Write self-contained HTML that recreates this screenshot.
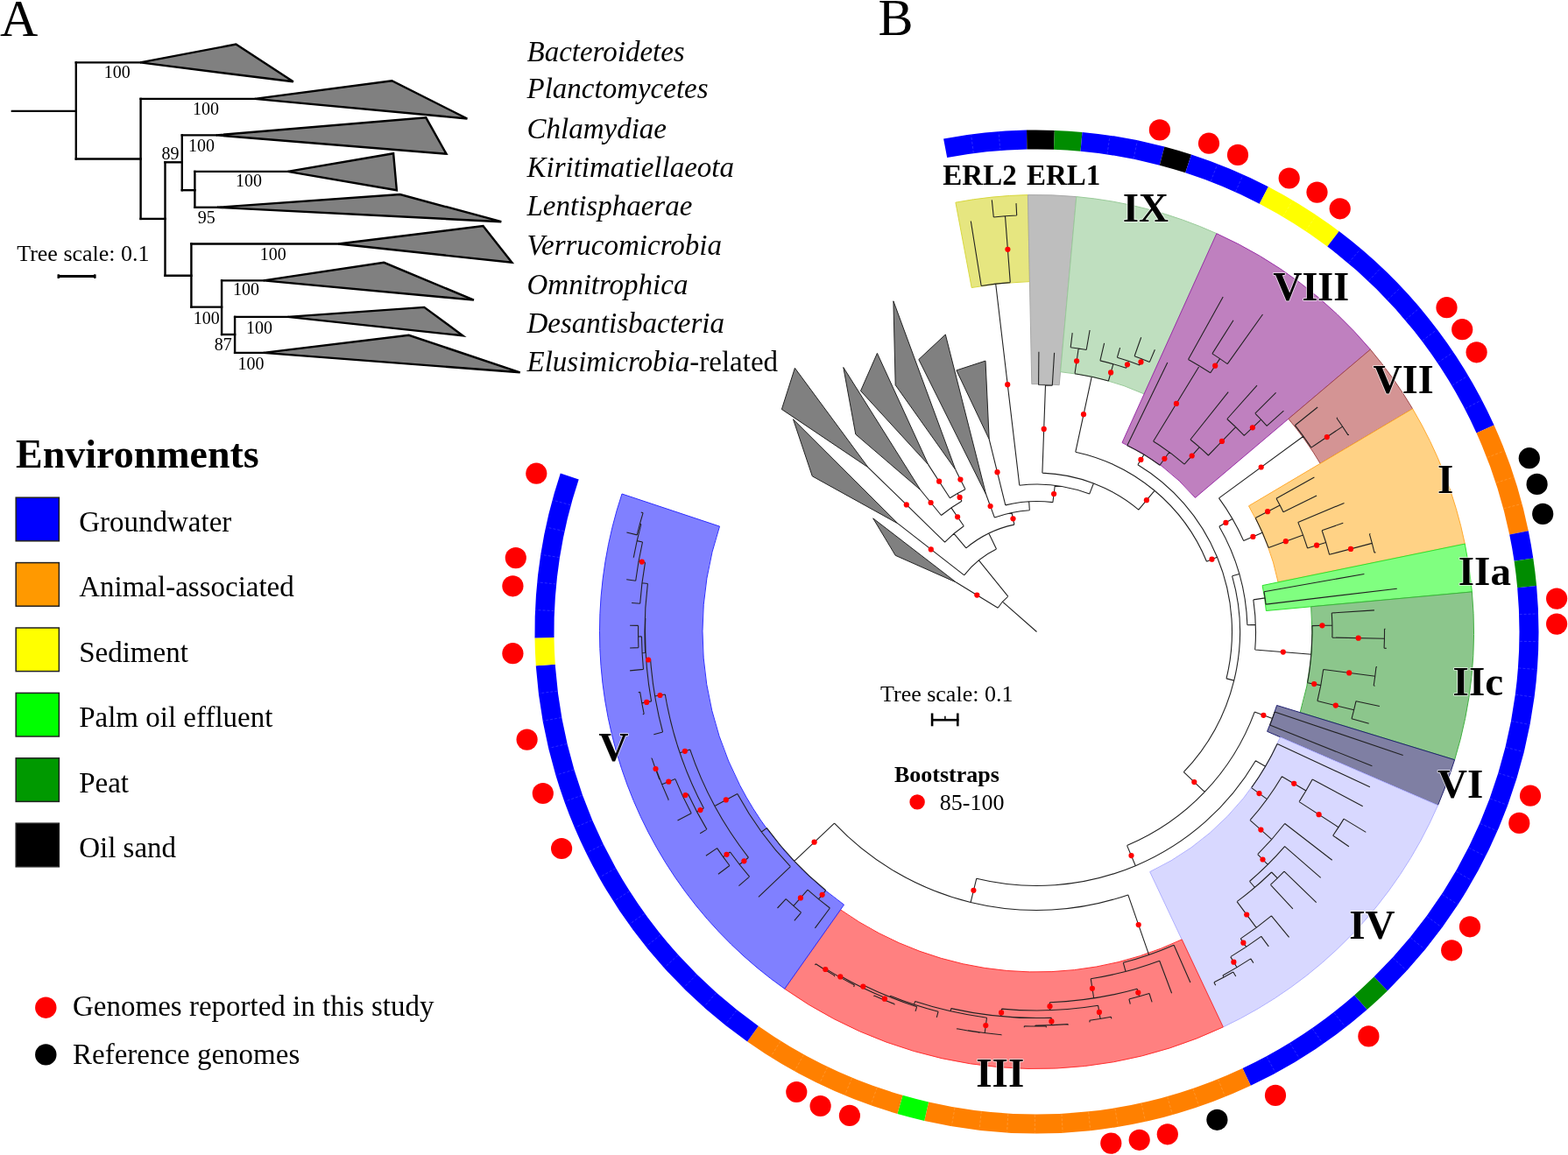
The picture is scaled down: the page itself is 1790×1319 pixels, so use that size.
<!DOCTYPE html>
<html><head><meta charset="utf-8"><title>Figure</title>
<style>html,body{margin:0;padding:0;background:#fff;} svg{display:block}</style></head>
<body><svg width="1790" height="1319" viewBox="0 0 1790 1319" font-family="'Liberation Serif', serif">
<rect width="1790" height="1319" fill="#fff"/>
<text x="0" y="41" font-size="60">A</text>
<g stroke="#000" stroke-width="2.4" stroke-linecap="square" fill="none">
<line x1="13.9" y1="126.9" x2="86.8" y2="126.9"/>
<line x1="86.8" y1="71.4" x2="86.8" y2="181.5"/>
<line x1="86.8" y1="71.4" x2="160.1" y2="71.4"/>
<line x1="86.8" y1="181.5" x2="160.6" y2="181.5"/>
<line x1="160.6" y1="112.9" x2="160.6" y2="249.9"/>
<line x1="160.6" y1="112.9" x2="290.8" y2="112.9"/>
<line x1="160.6" y1="249.9" x2="188.5" y2="249.9"/>
<line x1="188.5" y1="185.3" x2="188.5" y2="314.7"/>
<line x1="188.5" y1="185.3" x2="207.8" y2="185.3"/>
<line x1="207.8" y1="154.4" x2="207.8" y2="217.2"/>
<line x1="207.8" y1="154.4" x2="246.8" y2="154.4"/>
<line x1="207.8" y1="217.2" x2="222.4" y2="217.2"/>
<line x1="222.4" y1="195.9" x2="222.4" y2="236.8"/>
<line x1="222.4" y1="195.9" x2="328.5" y2="195.9"/>
<line x1="222.4" y1="236.8" x2="248" y2="236.8"/>
<line x1="188.5" y1="314.7" x2="218.4" y2="314.7"/>
<line x1="218.4" y1="278.5" x2="218.4" y2="350.6"/>
<line x1="218.4" y1="278.5" x2="386.3" y2="278.5"/>
<line x1="218.4" y1="350.6" x2="253.1" y2="350.6"/>
<line x1="253.1" y1="320.4" x2="253.1" y2="382"/>
<line x1="253.1" y1="320.4" x2="300.8" y2="320.4"/>
<line x1="253.1" y1="382" x2="268.1" y2="382"/>
<line x1="268.1" y1="361.9" x2="268.1" y2="402.9"/>
<line x1="268.1" y1="361.9" x2="328.5" y2="361.9"/>
<line x1="268.1" y1="402.9" x2="300.8" y2="402.9"/>
</g>
<g fill="#808080" stroke="#000" stroke-width="2.4" stroke-linejoin="miter">
<polygon points="160.1,71.4 269.4,50.6 334.8,93.3"/>
<polygon points="290.8,112.9 447.4,92.3 533.4,135.5"/>
<polygon points="246.8,154.4 486.3,134.3 509.5,175.7"/>
<polygon points="328.5,195.9 449.1,175.2 452.9,217.2"/>
<polygon points="248,236.8 456.7,222 572.3,253.2"/>
<polygon points="386.3,278.5 551.5,258.1 584.4,299.8"/>
<polygon points="300.8,320.4 438.3,299.8 540.9,342.6"/>
<polygon points="328.5,361.9 484.3,350.9 528.3,383.3"/>
<polygon points="300.8,402.9 466.7,382.8 593.7,425.3"/>
</g>
<g font-size="20">
<text x="118.7" y="89.2">100</text>
<text x="220.0" y="130.5">100</text>
<text x="184.4" y="182">89</text>
<text x="215.0" y="173.2">100</text>
<text x="269.1" y="213">100</text>
<text x="225.8" y="255">95</text>
<text x="296.7" y="297.3">100</text>
<text x="266.0" y="336.8">100</text>
<text x="220.8" y="370.2">100</text>
<text x="281.1" y="381.3">100</text>
<text x="244.7" y="399.6">87</text>
<text x="271.6" y="421.5">100</text>
</g>
<text x="19.2" y="298" font-size="26">Tree scale: 0.1</text>
<line x1="66" y1="315.6" x2="109.2" y2="315.6" stroke="#000" stroke-width="3"/>
<rect x="65.5" y="313.3" width="2.5" height="4.6"/><rect x="107" y="313.3" width="2.5" height="4.6"/>
<g font-size="33" font-style="italic">
<text x="601.5" y="70.4">Bacteroidetes</text>
<text x="601.5" y="112.4">Planctomycetes</text>
<text x="601.5" y="157.5">Chlamydiae</text>
<text x="601.5" y="201.7">Kiritimatiellaeota</text>
<text x="601.5" y="246">Lentisphaerae</text>
<text x="601.5" y="290.6">Verrucomicrobia</text>
<text x="601.5" y="335.7">Omnitrophica</text>
<text x="601.5" y="379.9">Desantisbacteria</text>
<text x="601.5" y="424.3">Elusimicrobia<tspan font-style="normal">-related</tspan></text>
</g>
<text x="18" y="534.4" font-size="46" font-weight="bold">Environments</text>
<rect x="18.2" y="568.2" width="49.2" height="49.6" fill="#0000FF" stroke="#222" stroke-width="1.5"/>
<text x="90.2" y="607.0" font-size="33">Groundwater</text>
<rect x="18.2" y="642.6" width="49.2" height="49.6" fill="#FF9900" stroke="#222" stroke-width="1.5"/>
<text x="90.2" y="681.4" font-size="33">Animal-associated</text>
<rect x="18.2" y="717.0" width="49.2" height="49.6" fill="#FFFF00" stroke="#222" stroke-width="1.5"/>
<text x="90.2" y="755.8" font-size="33">Sediment</text>
<rect x="18.2" y="791.4" width="49.2" height="49.6" fill="#00FF00" stroke="#222" stroke-width="1.5"/>
<text x="90.2" y="830.2" font-size="33">Palm oil effluent</text>
<rect x="18.2" y="865.8" width="49.2" height="49.6" fill="#009900" stroke="#222" stroke-width="1.5"/>
<text x="90.2" y="904.6" font-size="33">Peat</text>
<rect x="18.2" y="940.2" width="49.2" height="49.6" fill="#000000" stroke="#222" stroke-width="1.5"/>
<text x="90.2" y="979.0" font-size="33">Oil sand</text>
<circle cx="52.3" cy="1150.7" r="12.2" fill="#FF0000"/>
<circle cx="52.3" cy="1204.4" r="12.2" fill="#000"/>
<text x="83" y="1160" font-size="33">Genomes reported in this study</text>
<text x="83" y="1215.2" font-size="33">Reference genomes</text>
<text x="1002.5" y="39.5" font-size="60">B</text>
<path d="M1090.9,231.2 A499,499 0 0 1 1173.4,222.6 L1175.4,321.6 A400,400 0 0 0 1109.2,328.5 Z" fill="#E6E680" stroke="#D8D840" stroke-width="1"/>
<path d="M1173.4,222.6 A499,499 0 0 1 1228.8,224.6 L1209.2,439.7 A283,283 0 0 0 1177.8,438.6 Z" fill="#BEBEBE" stroke="#A8A8A8" stroke-width="1"/>
<path d="M1228.8,224.6 A499,499 0 0 1 1388.9,266.7 L1306.1,449.9 A298,298 0 0 0 1210.6,424.7 Z" fill="#BFDFBF" stroke="#9ACB9A" stroke-width="1"/>
<path d="M1388.9,266.7 A499,499 0 0 1 1564.4,399.1 L1364.4,568.4 A237,237 0 0 0 1281.0,505.5 Z" fill="#BF80BF" stroke="#9A30A8" stroke-width="1"/>
<path d="M1564.4,399.1 A499,499 0 0 1 1612.6,466.8 L1507.2,529.3 A376.5,376.5 0 0 0 1470.9,478.3 Z" fill="#D49494" stroke="#A04848" stroke-width="1"/>
<path d="M1612.6,466.8 A499,499 0 0 1 1672.3,621.1 L1459.1,664.9 A281.4,281.4 0 0 0 1425.5,577.8 Z" fill="#FFD285" stroke="#FFAA30" stroke-width="1"/>
<path d="M1672.3,621.1 A499,499 0 0 1 1680.4,675.9 L1445.4,697.5 A263,263 0 0 0 1441.1,668.6 Z" fill="#80FF80" stroke="#30E030" stroke-width="1"/>
<path d="M1680.4,675.9 A499,499 0 0 1 1660.6,867.7 L1484.2,813.6 A314.5,314.5 0 0 0 1496.7,692.8 Z" fill="#8CC68C" stroke="#40B040" stroke-width="1"/>
<path d="M1660.6,867.7 A499,499 0 0 1 1641.5,919.6 L1446.6,835.3 A286.7,286.7 0 0 0 1457.6,805.5 Z" fill="#7F7FA3" stroke="#202070" stroke-width="1"/>
<path d="M1641.5,919.6 A499,499 0 0 1 1396.3,1172.9 L1312.7,995.6 A303,303 0 0 0 1461.6,841.8 Z" fill="#D8D8FF" stroke="#B0B0FF" stroke-width="1"/>
<path d="M1396.3,1172.9 A499,499 0 0 1 895.7,1129.2 L959.5,1038.9 A388.5,388.5 0 0 0 1349.2,1072.9 Z" fill="#FF8080" stroke="#FF3030" stroke-width="1"/>
<path d="M895.7,1129.2 A499,499 0 0 1 710.0,564.0 L821.5,601.1 A381.5,381.5 0 0 0 963.5,1033.2 Z" fill="#8080FF" stroke="#3030FF" stroke-width="1"/>
<path d="M1077.1,158.5 A573,573 0 0 1 1172.0,148.6 L1172.4,170.6 A551,551 0 0 0 1081.2,180.1 Z" fill="#0000FF"/>
<path d="M1172.0,148.6 A573,573 0 0 1 1203.8,148.9 L1203.0,170.8 A551,551 0 0 0 1172.4,170.6 Z" fill="#000000"/>
<path d="M1203.8,148.9 A573,573 0 0 1 1235.5,150.9 L1233.5,172.8 A551,551 0 0 0 1203.0,170.8 Z" fill="#008C00"/>
<path d="M1235.5,150.9 A573,573 0 0 1 1329.4,167.4 L1323.8,188.7 A551,551 0 0 0 1233.5,172.8 Z" fill="#0000FF"/>
<path d="M1329.4,167.4 A573,573 0 0 1 1360.0,176.4 L1353.2,197.3 A551,551 0 0 0 1323.8,188.7 Z" fill="#000000"/>
<path d="M1360.0,176.4 A573,573 0 0 1 1447.9,213.2 L1437.8,232.7 A551,551 0 0 0 1353.2,197.3 Z" fill="#0000FF"/>
<path d="M1447.9,213.2 A573,573 0 0 1 1528.6,264.1 L1515.3,281.6 A551,551 0 0 0 1437.8,232.7 Z" fill="#FFFF00"/>
<path d="M1528.6,264.1 A573,573 0 0 1 1705.6,485.4 L1685.5,494.5 A551,551 0 0 0 1515.3,281.6 Z" fill="#0000FF"/>
<path d="M1705.6,485.4 A573,573 0 0 1 1744.8,606.2 L1723.2,610.6 A551,551 0 0 0 1685.5,494.5 Z" fill="#FF8000"/>
<path d="M1744.8,606.2 A573,573 0 0 1 1750.3,637.6 L1728.6,640.8 A551,551 0 0 0 1723.2,610.6 Z" fill="#0000FF"/>
<path d="M1750.3,637.6 A573,573 0 0 1 1754.1,669.1 L1732.2,671.2 A551,551 0 0 0 1728.6,640.8 Z" fill="#008C00"/>
<path d="M1754.1,669.1 A573,573 0 0 1 1583.9,1131.4 L1568.5,1115.6 A551,551 0 0 0 1732.2,671.2 Z" fill="#0000FF"/>
<path d="M1583.9,1131.4 A573,573 0 0 1 1560.6,1153.0 L1546.1,1136.4 A551,551 0 0 0 1568.5,1115.6 Z" fill="#008C00"/>
<path d="M1560.6,1153.0 A573,573 0 0 1 1427.8,1239.8 L1418.5,1219.9 A551,551 0 0 0 1546.1,1136.4 Z" fill="#0000FF"/>
<path d="M1427.8,1239.8 A573,573 0 0 1 1055.2,1279.9 L1060.1,1258.5 A551,551 0 0 0 1418.5,1219.9 Z" fill="#FF8000"/>
<path d="M1055.2,1279.9 A573,573 0 0 1 1024.4,1272.0 L1030.5,1250.8 A551,551 0 0 0 1060.1,1258.5 Z" fill="#00FF00"/>
<path d="M1024.4,1272.0 A573,573 0 0 1 853.1,1189.6 L865.8,1171.7 A551,551 0 0 0 1030.5,1250.8 Z" fill="#FF8000"/>
<path d="M853.1,1189.6 A573,573 0 0 1 611.8,760.2 L633.8,758.7 A551,551 0 0 0 865.8,1171.7 Z" fill="#0000FF"/>
<path d="M611.8,760.2 A573,573 0 0 1 610.5,728.4 L632.5,728.1 A551,551 0 0 0 633.8,758.7 Z" fill="#FFFF00"/>
<path d="M610.5,728.4 A573,573 0 0 1 639.8,540.6 L660.7,547.6 A551,551 0 0 0 632.5,728.1 Z" fill="#0000FF"/>
<path d="M1111.3,174.7L1108.6,153.9M1141.8,171.6L1140.2,150.6M1264.0,175.9L1267.0,155.1M1294.1,181.2L1298.4,160.6M1382.2,207.0L1389.8,187.5M1410.5,218.9L1419.1,199.7M1464.8,247.1L1475.5,229.1M1490.7,263.5L1502.4,246.0M1539.5,300.3L1553.1,284.3M1562.4,320.7L1576.8,305.5M1584.0,342.4L1599.3,328.0M1604.5,365.2L1620.5,351.6M1623.6,389.1L1640.3,376.5M1641.4,414.1L1658.8,402.4M1657.7,440.0L1675.8,429.2M1672.6,466.7L1691.2,457.0M1697.8,522.5L1717.4,514.9M1708.1,551.3L1728.1,544.9M1716.7,580.7L1737.0,575.4M1734.6,701.7L1755.6,700.9M1734.9,732.3L1755.9,732.7M1733.4,762.9L1754.4,764.5M1730.3,793.3L1751.1,796.1M1725.5,823.6L1746.1,827.5M1719.0,853.5L1739.4,858.5M1710.8,883.0L1730.9,889.2M1701.0,912.0L1720.7,919.3M1689.7,940.5L1708.9,948.8M1676.7,968.2L1695.5,977.6M1662.3,995.2L1680.5,1005.7M1646.3,1021.4L1664.0,1032.8M1629.0,1046.6L1645.9,1059.0M1610.2,1070.8L1626.5,1084.1M1590.2,1094.0L1605.7,1108.2M1522.8,1156.3L1535.7,1172.8M1498.1,1174.4L1510.1,1191.7M1472.5,1191.2L1483.5,1209.1M1446.0,1206.5L1456.0,1225.0M1390.6,1232.6L1398.5,1252.1M1361.9,1243.3L1368.7,1263.2M1332.7,1252.4L1338.4,1272.7M1303.0,1259.9L1307.5,1280.4M1272.9,1265.7L1276.3,1286.4M1242.6,1269.8L1244.8,1290.7M1212.0,1272.3L1213.1,1293.2M1181.4,1273.0L1181.4,1294.0M1150.8,1272.0L1149.6,1293.0M1120.3,1269.4L1117.9,1290.2M1090.0,1265.0L1086.4,1285.7M1001.2,1242.0L994.2,1261.8M972.6,1231.1L964.5,1250.5M944.6,1218.6L935.5,1237.5M917.4,1204.5L907.2,1222.9M891.0,1189.0L879.8,1206.8M841.0,1153.7L827.9,1170.2M817.5,1134.0L803.6,1149.7M795.2,1113.1L780.4,1128.0M774.0,1090.9L758.4,1105.0M754.1,1067.6L737.8,1080.8M735.6,1043.3L718.5,1055.5M718.4,1017.9L700.7,1029.2M702.7,991.6L684.4,1001.9M688.4,964.5L669.6,973.8M675.7,936.7L656.4,944.9M664.5,908.2L644.8,915.3M655.0,879.1L634.9,885.1M647.1,849.5L626.6,854.4M640.8,819.5L620.1,823.2M636.2,789.2L615.3,791.8M632.5,697.5L611.5,696.6M634.7,667.0L613.8,664.9M638.6,636.6L617.8,633.4M644.1,606.5L623.6,602.1M651.3,576.7L631.1,571.2" stroke="#fff" stroke-opacity="0.22" stroke-width="0.8" stroke-dasharray="3 2" fill="none"/>
<g fill="#808080" stroke="#222" stroke-width="1" stroke-linejoin="miter">
<polygon points="1091.5,665.0 1022.2,634.3 996.7,591.9"/>
<polygon points="1025.0,597.9 927.3,543.8 905.5,478.8"/>
<polygon points="991.1,533.8 892.4,467.4 907.4,420.3"/>
<polygon points="1050.8,559.5 976.8,496.0 962.8,419.5"/>
<polygon points="1059.7,530.6 982.5,446.4 1001.4,403.4"/>
<polygon points="1090.8,536.4 1022.2,439.7 1019.9,343.8"/>
<polygon points="1125.7,564.8 1048.8,410.5 1079.3,382.0"/>
<polygon points="1129.2,501.6 1091.9,422.9 1125.0,412.1"/>
</g>
<path d="M1183.5,721.5L1144.4,687.2M1139.2,694.3A52,52 0 0 1 1150.8,681.1M1139.2,694.3L1091.5,665.0M1150.8,681.1L1117.4,639.9M1100.7,656.9A105,105 0 0 1 1137.5,627.1M1100.7,656.9L1025.0,597.9M1137.5,627.1L1128.8,609.1M1102.9,625.9A125,125 0 0 1 1157.9,599.1M1102.9,625.9L1089.0,609.4M1078.6,619.1A146.6,146.6 0 0 1 1100.3,600.8M1078.6,619.1L991.1,533.8M1100.3,600.8L1085.9,579.9M1074.5,588.5A172,172 0 0 1 1098.0,572.2M1074.5,588.5L1050.8,559.5M1098.0,572.2L1093.1,563.6M1084.4,568.8A182,182 0 0 1 1102.0,558.8M1084.4,568.8L1059.7,530.6M1102.0,558.8L1090.8,536.4M1157.9,599.1L1155.0,585.4M1135.4,591.1A139,139 0 0 1 1175.3,582.7M1135.4,591.1L1125.7,564.8M1175.3,582.7L1174.7,572.8M1147.8,576.9A149,149 0 0 1 1201.9,573.6M1147.8,576.9L1129.2,501.6M1201.9,573.6L1204.3,554.3M1163.8,554.2A168.5,168.5 0 0 1 1243.7,564.1M1163.8,554.2L1136.7,324.3M1120.2,326.5A400,400 0 0 1 1153.3,322.6M1120.2,326.5L1108.3,252.5M1153.3,322.6L1147.5,246.9M1134.3,248.0A476,476 0 0 1 1160.7,246.0M1134.3,248.0L1132.3,228.4M1160.7,246.0L1160.0,232.1M1243.7,564.1L1248.4,552.0M1189.9,540.1A181.5,181.5 0 0 1 1299.8,582.1M1189.9,540.1L1193.5,439.7M1185.6,439.5A282,282 0 0 1 1201.3,440.1M1185.6,439.5L1185.9,401.7M1201.3,440.1L1203.6,402.9M1299.8,582.1L1318.0,560.3M1227.8,516.2A210,210 0 0 1 1377.5,641.2M1227.8,516.2L1246.3,430.2M1227.0,426.7A298,298 0 0 1 1265.4,435.0M1227.0,426.7L1231.2,398.0M1222.2,396.8A327,327 0 0 1 1240.2,399.5M1222.2,396.8L1224.2,380.1M1240.2,399.5L1244.1,377.0M1265.4,435.0L1270.9,415.7M1255.9,411.9A318,318 0 0 1 1285.6,420.3M1255.9,411.9L1260.6,391.9M1285.6,420.3L1288.4,412.3M1275.4,408.2A326.5,326.5 0 0 1 1301.1,416.9M1275.4,408.2L1278.6,397.2M1301.1,416.9L1303.8,409.9M1295.1,406.7A334,334 0 0 1 1312.4,413.4M1295.1,406.7L1302.7,385.3M1312.4,413.4L1318.4,399.3M1377.5,641.2L1389.5,636.2M1298.9,530.7A223,223 0 0 1 1400.0,774.9M1298.9,530.7L1305.9,519.1M1286.8,508.7A236.5,236.5 0 0 1 1324.0,531.2M1286.8,508.7L1332.8,414.0M1324.0,531.2L1334.9,516.3M1316.6,504.0A255,255 0 0 1 1352.1,530.2M1316.6,504.0L1369.3,417.8M1356.5,410.4A356,356 0 0 1 1381.8,425.8M1356.5,410.4L1396.2,338.9M1381.8,425.8L1392.6,409.6M1383.9,403.9A375.5,375.5 0 0 1 1401.2,415.6M1383.9,403.9L1408.0,365.8M1401.2,415.6L1441.5,359.0M1352.1,530.2L1369.3,510.7M1358.9,502.0A281,281 0 0 1 1379.4,520.0M1358.9,502.0L1402.2,447.7M1379.4,520.0L1410.7,487.7M1400.8,478.5A326,326 0 0 1 1420.3,497.4M1400.8,478.5L1435.0,440.2M1420.3,497.4L1439.6,479.1M1432.8,472.1A352.6,352.6 0 0 1 1446.2,486.3M1432.8,472.1L1456.6,448.3M1446.2,486.3L1465.4,469.1M1400.0,774.9L1408.7,777.1M1406.6,657.8A232,232 0 0 1 1351.3,881.7M1406.6,657.8L1414.8,655.5M1391.8,601.2A240.5,240.5 0 0 1 1423.9,713.7M1391.8,601.2L1406.9,592.5M1391.5,568.9A258,258 0 0 1 1419.7,617.6M1391.5,568.9L1487.9,498.2M1478.3,485.7A377.5,377.5 0 0 1 1496.9,511.1M1478.3,485.7L1504.2,465.0M1496.9,511.1L1532.6,487.1M1526.0,477.5A420.5,420.5 0 0 1 1539.0,496.9M1526.0,477.5L1526.8,476.9M1539.0,496.9L1539.8,496.3M1419.7,617.6L1441.2,608.2M1433.2,591.4A281.5,281.5 0 0 1 1448.1,625.4M1433.2,591.4L1461.1,576.9M1457.0,569.2A313,313 0 0 1 1465.0,584.7M1457.0,569.2L1500.4,545.1M1465.0,584.7L1503.1,566.1M1448.1,625.4L1487.6,611.1M1481.8,596.4A323.5,323.5 0 0 1 1492.6,626.0M1481.8,596.4L1534.5,574.4M1492.6,626.0L1513.6,619.5M1509.1,605.8A345.5,345.5 0 0 1 1517.6,633.3M1509.1,605.8L1533.3,597.2M1517.6,633.3L1566.4,620.4M1563.4,609.8A396,396 0 0 1 1569.0,631.1M1563.4,609.8L1564.4,609.5M1569.0,631.1L1570.5,630.7M1423.9,713.7L1433.4,713.4M1430.8,684.9A250,250 0 0 1 1432.7,742.0M1430.8,684.9L1444.2,682.9M1443.0,675.7A263.5,263.5 0 0 1 1445.1,690.1M1443.0,675.7L1557.4,655.5M1445.1,690.1L1594.8,672.2M1432.7,742.0L1496.9,747.3M1497.9,714.6A314.5,314.5 0 0 1 1492.6,779.7M1497.9,714.6L1520.9,714.0M1520.3,700.0A337.5,337.5 0 0 1 1520.9,728.1M1520.3,700.0L1568.9,696.9M1520.9,728.1L1580.4,729.3M1580.5,718.2A397,397 0 0 1 1580.1,740.3M1580.5,718.2L1581.5,718.2M1580.1,740.3L1582.7,740.4M1492.6,779.7L1507.8,782.6M1510.7,764.5A330,330 0 0 1 1503.9,800.5M1510.7,764.5L1569.8,772.3M1571.0,761.5A389.6,389.6 0 0 1 1568.2,783.0M1571.0,761.5L1571.9,761.6M1568.2,783.0L1569.6,783.2M1503.9,800.5L1545.7,810.8M1548.0,800.7A373,373 0 0 1 1543.0,820.8M1548.0,800.7L1574.9,806.5M1543.0,820.8L1562.7,826.2M1351.3,881.7L1375.2,904.4M1432.2,813.1A265,265 0 0 1 1286.6,965.6M1432.2,813.1L1452.5,820.6M1455.2,813.0A286.7,286.7 0 0 1 1449.7,828.0M1455.2,813.0L1601.7,862.4M1449.7,828.0L1566.4,874.7M1286.6,965.6L1296.3,988.7M1433.4,868.7A290,290 0 0 1 1114.8,1003.2M1433.4,868.7L1444.6,875.3M1458.1,849.5A303,303 0 0 1 1428.6,899.6M1458.1,849.5L1563.9,898.8M1428.6,899.6L1446.4,912.6M1463.4,886.7A325,325 0 0 1 1427.0,936.7M1463.4,886.7L1490.9,903.0M1498.2,890.0A357,357 0 0 1 1483.1,915.6M1498.2,890.0L1555.7,920.8M1483.1,915.6L1528.0,944.7M1534.1,935.1A410.5,410.5 0 0 1 1521.7,954.2M1534.1,935.1L1559.3,950.4M1521.7,954.2L1539.9,966.7M1427.0,936.7L1451.8,958.6M1466.7,940.5A358,358 0 0 1 1435.7,975.6M1466.7,940.5L1520.7,982.2M1435.7,975.6L1447.3,987.3M1466.6,966.7A374.5,374.5 0 0 1 1426.5,1006.5M1466.6,966.7L1507.7,1002.3M1426.5,1006.5L1432.5,1013.5M1451.6,996.0A383.7,383.7 0 0 1 1412.1,1029.6M1451.6,996.0L1458.3,1002.8M1466.0,995.1A393.3,393.3 0 0 1 1450.4,1010.4M1466.0,995.1L1502.7,1030.6M1450.4,1010.4L1475.9,1037.9M1412.1,1029.6L1434.2,1059.4M1451.4,1045.8A420.7,420.7 0 0 1 1416.3,1071.9M1451.4,1045.8L1471.6,1070.3M1416.3,1071.9L1422.6,1081.4M1439.8,1069.4A432.1,432.1 0 0 1 1404.8,1092.6M1439.8,1069.4L1448.3,1080.9M1404.8,1092.6L1412.0,1104.7M1427.8,1094.9A446.2,446.2 0 0 1 1395.9,1113.9M1427.8,1094.9L1430.9,1099.6M1395.9,1113.9L1397.0,1115.9M1407.8,1109.9A448.5,448.5 0 0 1 1385.9,1121.7M1407.8,1109.9L1410.8,1115.1M1385.9,1121.7L1387.7,1125.3M1114.8,1003.2L1108.1,1030.4M1287.8,1021.9A318,318 0 0 1 952.5,940.1M1287.8,1021.9L1311.6,1090.4M1340.1,1079.2A390.5,390.5 0 0 1 1282.3,1099.3M1340.1,1079.2L1358.9,1122.0M1282.3,1099.3L1285.0,1109.4M1323.7,1097.2A401,401 0 0 1 1245.2,1117.7M1323.7,1097.2L1337.6,1134.3M1245.2,1117.7L1248.7,1140.0M1298.1,1129.2A423.5,423.5 0 0 1 1198.4,1144.7M1298.1,1129.2L1300.5,1137.9M1312.0,1134.5A432.5,432.5 0 0 1 1288.9,1141.0M1312.0,1134.5L1315.1,1144.4M1288.9,1141.0L1290.3,1146.6M1198.4,1144.7L1198.7,1153.7M1253.6,1148.3A432.5,432.5 0 0 1 1143.5,1152.1M1253.6,1148.3L1256.1,1163.5M1268.4,1161.3A447.9,447.9 0 0 1 1243.8,1165.3M1268.4,1161.3L1268.8,1163.3M1243.8,1165.3L1244.1,1167.4M1143.5,1152.1L1142.7,1160.6M1200.2,1162.2A441,441 0 0 1 1085.8,1151.6M1200.2,1162.2L1200.5,1170.7M1219.2,1169.6A449.5,449.5 0 0 1 1181.8,1171.0M1219.2,1169.6L1219.3,1170.6M1181.8,1171.0L1181.8,1172.0M1194.3,1171.9A450.5,450.5 0 0 1 1169.3,1171.8M1194.3,1171.9L1194.4,1173.4M1169.3,1171.8L1169.3,1173.3M1085.8,1151.6L1085.1,1154.9M1126.5,1162.2A444.4,444.4 0 0 1 1044.6,1143.6M1126.5,1162.2L1124.2,1179.7M1143.3,1181.8A462,462 0 0 1 1105.2,1176.8M1143.3,1181.8L1143.3,1182.2M1105.2,1176.8L1105.1,1177.0M1117.8,1179.0A462.2,462.2 0 0 1 1092.5,1174.7M1117.8,1179.0L1117.7,1179.8M1092.5,1174.7L1092.4,1175.4M1044.6,1143.6L1043.5,1147.1M1071.1,1155.2A448,448 0 0 1 1016.5,1137.2M1071.1,1155.2L1069.3,1161.9M1016.5,1137.2L1015.9,1138.6M1046.7,1149.7A449.5,449.5 0 0 1 986.0,1125.3M1046.7,1149.7L1045.0,1154.9M986.0,1125.3L984.7,1128.0M1010.4,1139.6A452.5,452.5 0 0 1 959.7,1114.8M1010.4,1139.6L1009.5,1141.9M1021.2,1146.6A455,455 0 0 1 997.9,1136.9M1021.2,1146.6L1020.8,1147.5M997.9,1136.9L997.5,1137.8M959.7,1114.8L958.9,1116.1M975.5,1125.1A454,454 0 0 1 942.7,1106.4M975.5,1125.1L974.6,1126.9M942.7,1106.4L941.9,1107.6M952.8,1114.1A455.4,455.4 0 0 1 931.3,1100.7M952.8,1114.1L952.2,1115.1M931.3,1100.7L930.4,1102.0M952.5,940.1L906.8,983.4M942.7,1016.8A381,381 0 0 1 875.4,945.6M942.7,1016.8L934.5,1026.9M947.4,1037.0A394,394 0 0 1 922.0,1016.2M947.4,1037.0L930.4,1059.8M922.0,1016.2L905.8,1034.6M914.6,1042.1A418.5,418.5 0 0 1 897.2,1026.7M914.6,1042.1L906.8,1051.4M897.2,1026.7L887.5,1037.0M875.4,945.6L869.3,950.0M902.4,989.6A388.5,388.5 0 0 1 841.8,906.4M902.4,989.6L865.9,1024.4M841.8,906.4L815.9,920.4M854.5,979.3A418,418 0 0 1 787.7,855.9M854.5,979.3L844.2,987.3M855.6,1001.2A431,431 0 0 1 833.5,973.0M855.6,1001.2L843.4,1011.6M833.5,973.0L825.6,978.6M832.9,988.5A440.7,440.7 0 0 1 818.6,968.6M832.9,988.5L819.9,998.3M818.6,968.6L805.9,977.2M787.7,855.9L776.1,859.8M803.4,923.0A430.2,430.2 0 0 1 759.3,793.0M803.4,923.0L795.7,927.2M806.9,947.1A439,439 0 0 1 785.5,906.7M806.9,947.1L799.2,951.7M785.5,906.7L779.6,909.4M789.2,928.8A445.5,445.5 0 0 1 770.9,889.6M789.2,928.8L773.5,937.1M770.9,889.6L755.7,895.8M763.3,913.5A462,462 0 0 1 748.8,877.9M763.3,913.5L762.6,913.8M748.8,877.9L748.3,878.0M752.8,890.1A462.5,462.5 0 0 1 744.1,865.9M752.8,890.1L752.8,890.1M744.1,865.9L743.5,866.1M759.3,793.0L747.6,795.0M756.6,836.0A442,442 0 0 1 742.6,753.3M756.6,836.0L746.3,838.7M742.6,753.3L737.7,753.6M743.6,800.9A447,447 0 0 1 736.8,706.0M743.6,800.9L732.8,802.9M735.2,815.4A458,458 0 0 1 730.7,790.4M735.2,815.4L733.8,815.7M730.7,790.4L728.7,790.7M736.8,706.0L736.3,705.9M736.6,745.5A447.5,447.5 0 0 1 739.4,666.5M736.6,745.5L733.2,745.7M734.5,764.4A451,451 0 0 1 732.5,726.9M734.5,764.4L719.1,765.9M732.5,726.9L728.5,727.0M728.9,739.6A455,455 0 0 1 728.6,714.4M728.9,739.6L719.1,740.0M728.6,714.4L719.1,714.2M739.4,666.5L732.9,665.7M730.7,689.2A454,454 0 0 1 736.5,642.3M730.7,689.2L721.1,688.5M736.5,642.3L729.1,641.0M725.7,663.2A461.5,461.5 0 0 1 733.5,619.0M725.7,663.2L715.2,661.8M733.5,619.0L727.2,617.6M723.3,636.7A468,468 0 0 1 731.9,598.7M723.3,636.7L722.8,636.6M731.9,598.7L730.5,598.3M727.2,610.9A469.5,469.5 0 0 1 734.1,585.7M727.2,610.9L715.4,608.0M734.1,585.7L731.8,585.0" fill="none" stroke="#222" stroke-width="1.1"/>
<g fill="#FF0000">
<circle cx="1115.3" cy="679.6" r="3.1"/>
<circle cx="1062.8" cy="627.4" r="3.1"/>
<circle cx="1034.8" cy="576.4" r="3.1"/>
<circle cx="1093.1" cy="590.3" r="3.1"/>
<circle cx="1062.6" cy="574.0" r="3.1"/>
<circle cx="1095.6" cy="567.9" r="3.1"/>
<circle cx="1072.1" cy="549.7" r="3.1"/>
<circle cx="1096.4" cy="547.6" r="3.1"/>
<circle cx="1156.5" cy="592.3" r="3.1"/>
<circle cx="1130.6" cy="578.0" r="3.1"/>
<circle cx="1138.5" cy="539.2" r="3.1"/>
<circle cx="1203.1" cy="564.0" r="3.1"/>
<circle cx="1150.2" cy="439.2" r="3.1"/>
<circle cx="1150.4" cy="284.8" r="3.1"/>
<circle cx="1191.7" cy="489.9" r="3.1"/>
<circle cx="1308.9" cy="571.2" r="3.1"/>
<circle cx="1237.0" cy="473.2" r="3.1"/>
<circle cx="1229.1" cy="412.3" r="3.1"/>
<circle cx="1268.1" cy="425.4" r="3.1"/>
<circle cx="1287.0" cy="416.3" r="3.1"/>
<circle cx="1302.5" cy="413.4" r="3.1"/>
<circle cx="1383.5" cy="638.7" r="3.1"/>
<circle cx="1302.4" cy="524.9" r="3.1"/>
<circle cx="1329.4" cy="523.8" r="3.1"/>
<circle cx="1342.9" cy="460.9" r="3.1"/>
<circle cx="1387.2" cy="417.7" r="3.1"/>
<circle cx="1360.7" cy="520.5" r="3.1"/>
<circle cx="1395.0" cy="503.9" r="3.1"/>
<circle cx="1429.9" cy="488.3" r="3.1"/>
<circle cx="1399.4" cy="596.9" r="3.1"/>
<circle cx="1439.7" cy="533.5" r="3.1"/>
<circle cx="1514.8" cy="499.1" r="3.1"/>
<circle cx="1430.4" cy="612.9" r="3.1"/>
<circle cx="1447.1" cy="584.2" r="3.1"/>
<circle cx="1467.8" cy="618.2" r="3.1"/>
<circle cx="1503.1" cy="622.7" r="3.1"/>
<circle cx="1542.0" cy="626.9" r="3.1"/>
<circle cx="1464.8" cy="744.6" r="3.1"/>
<circle cx="1509.4" cy="714.3" r="3.1"/>
<circle cx="1550.7" cy="728.7" r="3.1"/>
<circle cx="1500.2" cy="781.1" r="3.1"/>
<circle cx="1540.2" cy="768.4" r="3.1"/>
<circle cx="1524.8" cy="805.6" r="3.1"/>
<circle cx="1363.3" cy="893.1" r="3.1"/>
<circle cx="1442.4" cy="816.8" r="3.1"/>
<circle cx="1291.5" cy="977.1" r="3.1"/>
<circle cx="1437.5" cy="906.1" r="3.1"/>
<circle cx="1477.2" cy="894.8" r="3.1"/>
<circle cx="1505.6" cy="930.2" r="3.1"/>
<circle cx="1439.4" cy="947.6" r="3.1"/>
<circle cx="1441.5" cy="981.5" r="3.1"/>
<circle cx="1423.2" cy="1044.5" r="3.1"/>
<circle cx="1419.4" cy="1076.7" r="3.1"/>
<circle cx="1408.4" cy="1098.7" r="3.1"/>
<circle cx="1111.4" cy="1016.8" r="3.1"/>
<circle cx="1299.7" cy="1056.1" r="3.1"/>
<circle cx="1246.9" cy="1128.8" r="3.1"/>
<circle cx="1299.3" cy="1133.5" r="3.1"/>
<circle cx="1198.5" cy="1149.2" r="3.1"/>
<circle cx="1254.9" cy="1155.9" r="3.1"/>
<circle cx="1143.1" cy="1156.4" r="3.1"/>
<circle cx="1200.4" cy="1166.4" r="3.1"/>
<circle cx="1125.3" cy="1171.0" r="3.1"/>
<circle cx="985.3" cy="1126.6" r="3.1"/>
<circle cx="1009.9" cy="1140.7" r="3.1"/>
<circle cx="959.3" cy="1115.4" r="3.1"/>
<circle cx="942.3" cy="1107.0" r="3.1"/>
<circle cx="929.6" cy="961.7" r="3.1"/>
<circle cx="938.6" cy="1021.8" r="3.1"/>
<circle cx="913.9" cy="1025.4" r="3.1"/>
<circle cx="828.8" cy="913.4" r="3.1"/>
<circle cx="849.4" cy="983.3" r="3.1"/>
<circle cx="829.5" cy="975.8" r="3.1"/>
<circle cx="781.9" cy="857.8" r="3.1"/>
<circle cx="799.5" cy="925.1" r="3.1"/>
<circle cx="782.5" cy="908.1" r="3.1"/>
<circle cx="763.3" cy="892.7" r="3.1"/>
<circle cx="748.5" cy="878.0" r="3.1"/>
<circle cx="753.5" cy="794.0" r="3.1"/>
<circle cx="740.1" cy="753.5" r="3.1"/>
<circle cx="738.2" cy="801.9" r="3.1"/>
<circle cx="732.8" cy="641.6" r="3.1"/>
</g>
<g font-weight="bold" stroke="#fff" stroke-width="1.6" stroke-opacity="0.75" paint-order="stroke" stroke-linejoin="round">
<text x="1076.3" y="210.8" font-size="33">ERL2</text>
<text x="1171.9" y="210.8" font-size="33">ERL1</text>
<text x="1281.7" y="252.5" font-size="47">IX</text>
<text x="1453.2" y="342.8" font-size="46">VIII</text>
<text x="1567.6" y="449" font-size="46">VII</text>
<text x="1641.1" y="563.1" font-size="47">I</text>
<text x="1664.8" y="668" font-size="47">IIa</text>
<text x="1658.6" y="793.75" font-size="47">IIc</text>
<text x="1641.1" y="911.25" font-size="47">VI</text>
<text x="1540.2" y="1071.7" font-size="47">IV</text>
<text x="1114.3" y="1240.9" font-size="47">III</text>
<text x="683.5" y="869" font-size="47">V</text>
</g>
<text x="1005" y="800.7" font-size="26">Tree scale: 0.1</text>
<g stroke="#000" stroke-width="2.6"><line x1="1063" y1="822.2" x2="1094.4" y2="822.2"/><line x1="1064.1" y1="814.5" x2="1064.1" y2="829.3"/><line x1="1093.3" y1="814.5" x2="1093.3" y2="829.3"/><line x1="1078.9" y1="817.7" x2="1078.9" y2="822.2" stroke-width="1.5"/></g>
<text x="1021" y="893" font-size="26" font-weight="bold">Bootstraps</text>
<circle cx="1047.1" cy="915.9" r="8.7" fill="#FF0000"/>
<text x="1072.8" y="925.3" font-size="26">85-100</text>
<circle cx="1323.9" cy="148.4" r="12.1" fill="#FF0000"/>
<circle cx="1380" cy="163.7" r="12.1" fill="#FF0000"/>
<circle cx="1413" cy="176.9" r="12.1" fill="#FF0000"/>
<circle cx="1471.7" cy="203.5" r="12.1" fill="#FF0000"/>
<circle cx="1503.5" cy="219.6" r="12.1" fill="#FF0000"/>
<circle cx="1529.7" cy="238.3" r="12.1" fill="#FF0000"/>
<circle cx="1651.5" cy="351.2" r="12.1" fill="#FF0000"/>
<circle cx="1669.2" cy="376.2" r="12.1" fill="#FF0000"/>
<circle cx="1685.6" cy="402.3" r="12.1" fill="#FF0000"/>
<circle cx="1777.1" cy="683.6" r="12.1" fill="#FF0000"/>
<circle cx="1777.1" cy="712.6" r="12.1" fill="#FF0000"/>
<circle cx="1747" cy="908.7" r="12.1" fill="#FF0000"/>
<circle cx="1734.3" cy="939.9" r="12.1" fill="#FF0000"/>
<circle cx="1678" cy="1058.3" r="12.1" fill="#FF0000"/>
<circle cx="1657.2" cy="1085.3" r="12.1" fill="#FF0000"/>
<circle cx="1562.4" cy="1183.4" r="12.1" fill="#FF0000"/>
<circle cx="1456" cy="1250.9" r="12.1" fill="#FF0000"/>
<circle cx="612.3" cy="540.7" r="12.1" fill="#FF0000"/>
<circle cx="588.8" cy="637.1" r="12.1" fill="#FF0000"/>
<circle cx="585.4" cy="669.3" r="12.1" fill="#FF0000"/>
<circle cx="585.4" cy="746.2" r="12.1" fill="#FF0000"/>
<circle cx="601.6" cy="844.6" r="12.1" fill="#FF0000"/>
<circle cx="619.8" cy="906" r="12.1" fill="#FF0000"/>
<circle cx="641.1" cy="969" r="12.1" fill="#FF0000"/>
<circle cx="909.3" cy="1247" r="12.1" fill="#FF0000"/>
<circle cx="936.6" cy="1263" r="12.1" fill="#FF0000"/>
<circle cx="969.9" cy="1273.9" r="12.1" fill="#FF0000"/>
<circle cx="1268.3" cy="1305.6" r="12.1" fill="#FF0000"/>
<circle cx="1300.7" cy="1301.8" r="12.1" fill="#FF0000"/>
<circle cx="1332.8" cy="1295.3" r="12.1" fill="#FF0000"/>
<circle cx="1745.8" cy="523.2" r="12.1" fill="#000"/>
<circle cx="1754.6" cy="552.9" r="12.1" fill="#000"/>
<circle cx="1761.2" cy="586.9" r="12.1" fill="#000"/>
<circle cx="1389.4" cy="1278.8" r="12.1" fill="#000"/>
</svg></body></html>
